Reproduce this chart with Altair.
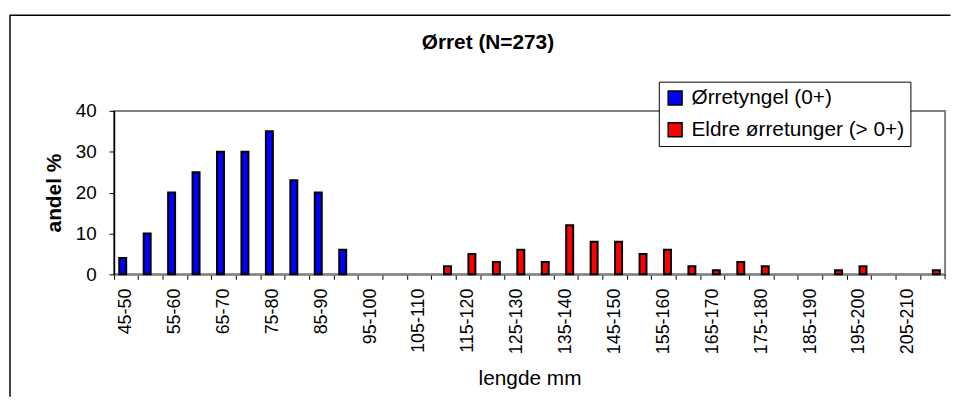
import altair as alt
import pandas as pd

# ---- data ----
categories = ["45-50", "50-55", "55-60", "60-65", "65-70", "70-75", "75-80", "80-85",
              "85-90", "90-95", "95-100", "100-105", "105-110", "110-115", "115-120",
              "120-125", "125-130", "130-135", "135-140", "140-145", "145-150",
              "150-155", "155-160", "160-165", "165-170", "170-175", "175-180",
              "180-185", "185-190", "190-195", "195-200", "200-205", "205-210",
              "210-215"]
yngel = [4, 10, 20, 25, 30, 30, 35, 23, 20, 6, 0, 0, 0, 0, 0, 0, 0, 0, 0, 0,
         0, 0, 0, 0, 0, 0, 0, 0, 0, 0, 0, 0, 0, 0]
eldre = [0, 0, 0, 0, 0, 0, 0, 0, 0, 0, 0, 0, 0, 2, 5, 3, 6, 3, 12, 8,
         8, 5, 6, 2, 1, 3, 2, 0, 0, 1, 2, 0, 0, 1]
series = ["Ørretyngel (0+)", "Eldre ørretunger (> 0+)"]
colors = ["#0000FF", "#FF0000"]
y_ticks = [0, 10, 20, 30, 40]

rows = []
for name, vals in zip(series, [yngel, eldre]):
    for c, v in zip(categories, vals):
        rows.append({"lengde": c, "serie": name, "andel": v})
df = pd.DataFrame(rows)

FONT = "Liberation Sans"
W, H = 839, 165

bars = alt.Chart(df).transform_filter("datum.andel > 0").mark_bar(
    stroke="black", strokeWidth=2
).encode(
    x=alt.X("lengde:N", sort=categories,
            scale=alt.Scale(domain=categories, paddingInner=0, paddingOuter=0),
            axis=alt.Axis(title="lengde mm", labelAngle=-90, labelFontSize=18,
                          labelAlign="right", labelBaseline="middle",
                          tickSize=5, labelPadding=9, bandPosition=0,
                          labelOverlap=False,
                          labelExpr="parseInt(split(datum.value, '-')[0]) % 10 == 5 ? datum.value : ''",
                          domainColor="#808080", domainWidth=2,
                          tickColor="black", tickWidth=1,
                          titleFontSize=21, titleFontWeight="normal",
                          titleY=111, titleBaseline="alphabetic",
                          labelColor="black", titleColor="black")),
    xOffset=alt.XOffset("serie:N", sort=series,
                        scale=alt.Scale(domain=series, paddingInner=0, paddingOuter=0.75)),
    y=alt.Y("andel:Q", scale=alt.Scale(domain=[0, 40]),
            axis=alt.Axis(values=y_ticks, title="andel %", titleFontWeight="bold",
                          titleFontSize=21, labelFontSize=19, tickSize=5,
                          labelPadding=13, domainColor="black", domainWidth=1.5,
                          tickColor="black", tickWidth=1, grid=False,
                          titleX=-53.5, titleY=82.5, titleBaseline="alphabetic",
                          labelColor="black", titleColor="black")),
    color=alt.Color("serie:N", sort=series,
                    scale=alt.Scale(domain=series, range=colors),
                    legend=alt.Legend(title=None, orient="none", legendX=550,
                                      legendY=-29.5, padding=6,
                                      strokeColor="black", fillColor="white",
                                      labelFontSize=21, labelFont=FONT,
                                      labelColor="black", labelLimit=0,
                                      symbolType="square", symbolSize=196,
                                      symbolStrokeColor="black",
                                      symbolStrokeWidth=1.5, symbolOpacity=1,
                                      rowPadding=10, labelOffset=6)),
    stroke=alt.value("black"),
)

one = alt.Data(values=[{}])
frame_top = alt.Chart(one).mark_rule(color="black", strokeWidth=1.5).encode(
    x=alt.value(-105.5), x2=alt.value(844.5), y=alt.value(-96.5))
frame_left = alt.Chart(one).mark_rule(color="black", strokeWidth=1.5).encode(
    x=alt.value(-105), y=alt.value(-96.5), y2=alt.value(288.5))
end_tick = alt.Chart(one).mark_rule(color="black", strokeWidth=1).encode(
    x=alt.value(W), y=alt.value(H), y2=alt.value(H + 5))

chart = alt.layer(frame_top, frame_left, end_tick, bars).properties(
    width=W, height=H,
    padding={"left": 0, "top": 4, "right": 0, "bottom": 0},
    title=alt.TitleParams("Ørret (N=273)", fontSize=21, fontWeight="bold",
                          font=FONT, color="black", anchor="middle",
                          frame="group", dx=-42, offset=-55.75,
                          baseline="alphabetic"),
).configure(font=FONT).configure_view(
    stroke="#808080", strokeWidth=2
)

chart.save("out.html", embed_options={"renderer": "svg", "actions": False})
